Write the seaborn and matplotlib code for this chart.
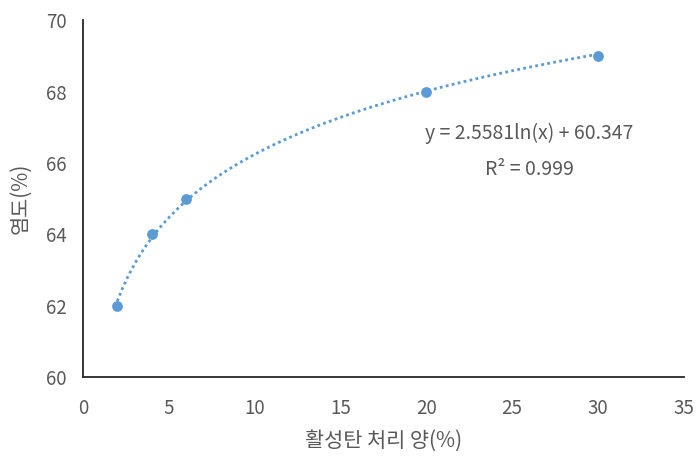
import matplotlib
matplotlib.use("Agg")
import matplotlib.pyplot as plt
import seaborn as sns
import pandas as pd

# Data
x_vals = [2, 4, 6, 20, 30]
y_vals = [62, 64, 65, 68, 69]
x_ticks = [0, 5, 10, 15, 20, 25, 30, 35]
y_ticks = [60, 62, 64, 66, 68, 70]
eq_text = "y = 2.5581ln(x) + 60.347"
r2_text = "R² = 0.999"
x_label = "활성탄 처리 양(%)"
y_label = "염도(%)"

df = pd.DataFrame({"x": x_vals, "y": y_vals})

sns.set_theme(style="white")
plt.rcParams['font.family'] = ['Noto Sans CJK KR', 'DejaVu Sans']

color = "#5B9BD5"
text_color = "#595959"

fig = plt.figure(figsize=(6.97, 4.59), dpi=100)
ax = fig.add_axes([0.119, 0.179, 0.862, 0.777])

sns.regplot(data=df, x="x", y="y", logx=True, ci=None, scatter=False, ax=ax,
            line_kws=dict(color=color, linestyle=(0, (1, 1.2)), linewidth=2))
sns.scatterplot(data=df, x="x", y="y", ax=ax, color=color, s=60,
                edgecolor=color, linewidth=0, zorder=5)

ax.set_xlim(0, 35)
ax.set_ylim(60, 70)
ax.set_xticks(x_ticks)
ax.set_yticks(y_ticks)
ax.tick_params(axis="x", labelsize=13.5, colors=text_color, length=0, pad=15)
ax.tick_params(axis="y", labelsize=13.5, colors=text_color, length=0, pad=12)
for lab in ax.get_xticklabels() + ax.get_yticklabels():
    lab.set_color(text_color)

ax.set_xlabel(x_label, fontsize=15, color=text_color, labelpad=8)
ax.set_ylabel(y_label, fontsize=15, color=text_color, labelpad=10)

for s in ["top", "right"]:
    ax.spines[s].set_visible(False)
for s in ["left", "bottom"]:
    ax.spines[s].set_color("#262626")
    ax.spines[s].set_linewidth(1.3)

ax.text(26.0, 66.83, eq_text, ha="center", va="center", fontsize=14, color=text_color)
ax.text(26.0, 65.8, r2_text, ha="center", va="center", fontsize=14, color=text_color)

fig.savefig("out.png", dpi=100)
